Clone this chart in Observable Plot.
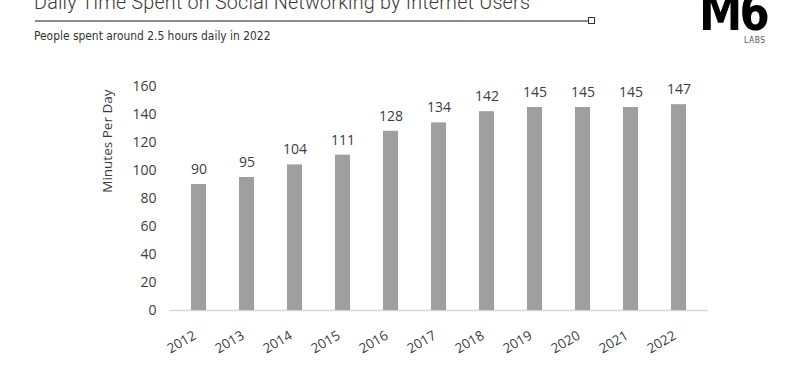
<!DOCTYPE html>
<html>
<head>
<meta charset="utf-8">
<script src="https://cdn.jsdelivr.net/npm/d3@7"></script>
<script src="https://cdn.jsdelivr.net/npm/@observablehq/plot@0.6"></script>
<style>
  html, body { margin: 0; padding: 0; background: #fff; }
  #wrap { position: relative; width: 800px; height: 370px; overflow: hidden; }
  #title { position: absolute; left: 34px; top: -7px; font-family: Roboto, "Noto Sans", sans-serif; font-weight: 300; font-size: 19.8px; line-height: 1; color: #3a3a3a; white-space: nowrap; letter-spacing: 0.2px; }
  #rule { position: absolute; left: 35px; top: 20px; width: 553px; height: 2px; background: #8a8a8a; }
  #sq { position: absolute; left: 588px; top: 17px; width: 5px; height: 5px; border: 1.5px solid #333; background: #fff; }
  #sub { position: absolute; left: 34px; top: 29px; font-family: "Liberation Sans Narrow", "DejaVu Sans Condensed", sans-serif; font-size: 11.9px; color: #333; white-space: nowrap; }
  #logo { position: absolute; left: 699px; top: -6px; font-family: "DejaVu Sans Condensed", "DejaVu Sans", sans-serif; font-weight: bold; font-size: 52px; color: #000; letter-spacing: -3px; line-height: 0.72; transform: scaleX(0.93); transform-origin: left top; }
  #labs { position: absolute; left: 744px; top: 36px; font-family: "Liberation Sans Narrow", "DejaVu Sans Condensed", sans-serif; font-size: 8.5px; line-height: 1; color: #555; letter-spacing: 0.5px; }
  #chart { position: absolute; left: 0; top: 0; }
</style>
</head>
<body>
<div id="wrap">
  <div id="chart"></div>
  <div id="title">Daily Time Spent on Social Networking by Internet Users</div>
  <div id="rule"></div>
  <div id="sq"></div>
  <div id="sub">People spent around 2.5 hours daily in 2022</div>
  <div id="logo">M6</div>
  <div id="labs">LABS</div>
</div>
<script>
const years = ["2012","2013","2014","2015","2016","2017","2018","2019","2020","2021","2022"];
const minutes = [90, 95, 104, 111, 128, 134, 142, 145, 145, 145, 147];
const yTicks = [0, 20, 40, 60, 80, 100, 120, 140, 160];
const yLabel = "Minutes Per Day";

const data = years.map((y, i) => ({year: y, value: minutes[i]}));

const chart = Plot.plot({
  width: 800,
  height: 370,
  marginLeft: 169,
  marginRight: 92,
  marginTop: 86,
  marginBottom: 60,
  style: {fontFamily: "'Open Sans', 'Noto Sans', sans-serif", background: "transparent"},
  x: {domain: years, paddingInner: 0.69, paddingOuter: 0.35, align: 0.5},
  y: {domain: [0, 160]},
  marks: [
    Plot.ruleY([0], {stroke: "#d6d6d6", strokeWidth: 1.5}),
    Plot.barY(data, {x: "year", y: "value", fill: "#9f9f9f"}),
    Plot.text(data, {x: "year", y: "value", text: d => String(d.value), dy: -15, fontSize: 14, fill: "#3c3c3c"}),
    Plot.axisY({ticks: yTicks, tickSize: 0, tickPadding: 13, fontSize: 14, color: "#3c3c3c", label: null}),
    Plot.text([yLabel], {frameAnchor: "top-left", text: d => d, rotate: -90, textAnchor: "end", dx: -67, dy: 3, fontSize: 13.5, fill: "#3c3c3c"}),
    Plot.axisX({tickSize: 0, tickRotate: -30, tickPadding: 24, dx: -4, fontSize: 13.5, color: "#3c3c3c", label: null})
  ]
});
document.getElementById("chart").appendChild(chart);
</script>
</body>
</html>
